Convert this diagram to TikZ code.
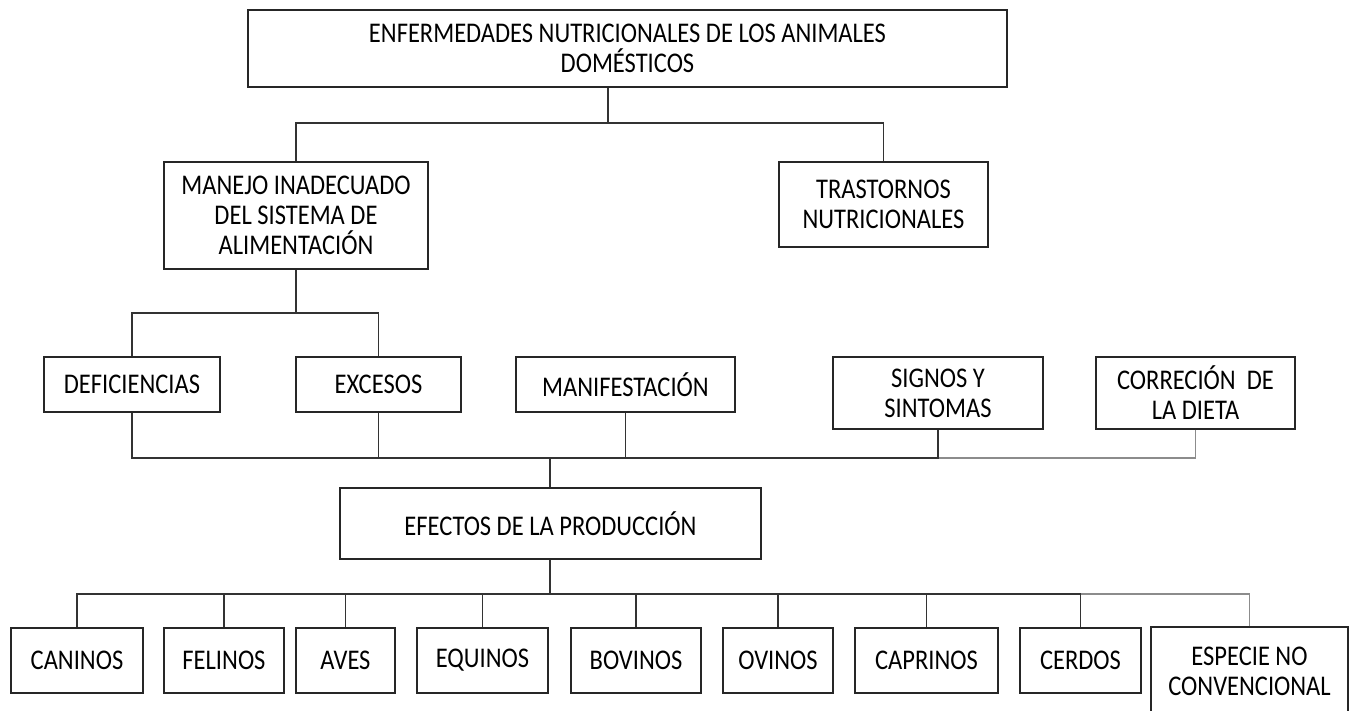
\documentclass[tikz,border=0pt]{standalone}
\usepackage{fontspec}
\setmainfont{Carlito}[FakeStretch=0.86]
\begin{document}
\begin{tikzpicture}[x=1pt,y=-1pt,
  box/.style={draw=black!85, line width=1.3pt, align=center, inner sep=0pt,
    font=\fontsize{28.5}{30}\selectfont, text=black},
  conn/.style={draw=black!80, line width=1.3pt},
  connlight/.style={draw=black!45, line width=1.1pt}]
\useasboundingbox (0,0) rectangle (1349,711);
\clip (0,0) rectangle (1349,711);
\fill[white] (0,0) rectangle (1349,711);
% nodes
\node[box, minimum width=759pt, minimum height=77pt] (top) at (627.5,48.5) {ENFERMEDADES NUTRICIONALES DE LOS ANIMALES\\DOMÉSTICOS};
\node[box, minimum width=264pt, minimum height=107pt] (manejo) at (296,215.5) {MANEJO INADECUADO\\DEL SISTEMA DE\\ALIMENTACIÓN};
\node[box, minimum width=209pt, minimum height=85pt] (trast) at (883.5,204.5) {TRASTORNOS\\NUTRICIONALES};
\node[box, minimum width=176pt, minimum height=55pt] (defic) at (132,384.5) {DEFICIENCIAS};
\node[box, minimum width=165pt, minimum height=55pt] (exces) at (378.5,384.5) {EXCESOS};
\node[box, minimum width=219pt, minimum height=55pt] (manif) at (625.5,384.5) {MANIFESTACIÓN};
\node[box, minimum width=210pt, minimum height=72pt] (signos) at (938,393) {SIGNOS Y\\SINTOMAS};
\node[box, minimum width=199pt, minimum height=72pt] (correc) at (1195.5,393) {CORRECIÓN\ \ DE\\LA DIETA};
\node[box, minimum width=421pt, minimum height=71pt] (efectos) at (550.5,523.5) {EFECTOS DE LA PRODUCCIÓN};
\node[box, minimum width=132pt, minimum height=65pt] (caninos) at (77,660.5) {CANINOS};
\node[box, minimum width=120pt, minimum height=65pt] (felinos) at (224,660.5) {FELINOS};
\node[box, minimum width=99pt, minimum height=65pt] (aves) at (345.5,660.5) {AVES};
\node[box, minimum width=131pt, minimum height=65pt] (equinos) at (482.5,660.5) {EQUINOS};
\node[box, minimum width=130pt, minimum height=65pt] (bovinos) at (636,660.5) {BOVINOS};
\node[box, minimum width=110pt, minimum height=65pt] (ovinos) at (778,660.5) {OVINOS};
\node[box, minimum width=143pt, minimum height=65pt] (caprinos) at (926.5,660.5) {CAPRINOS};
\node[box, minimum width=121pt, minimum height=65pt] (cerdos) at (1080.5,660.5) {CERDOS};
\node[box, minimum width=197pt, minimum height=88pt] (especie) at (1249.5,671) {ESPECIE NO\\CONVENCIONAL};
% junctions
\coordinate (j0) at (608,123);
\coordinate (j1) at (296,313);
\coordinate (j2) at (550,458);
\coordinate (j3) at (550,594);
% connectors
\draw[conn] (top.south -| j0) -- (j0);
\draw[conn] (manejo.north) |- (j0) -| (trast.north);
\draw[conn] (manejo.south) -- (j1);
\draw[conn] (defic.north) |- (j1) -| (exces.north);
\draw[connlight] (correc.south) |- (j2 -| signos.south);
\draw[conn] (defic.south) |- (j2);
\draw[conn] (exces.south) |- (j2);
\draw[conn] (manif.south) |- (j2);
\draw[conn] (signos.south) |- (j2);
\draw[conn] (j2) -- (efectos.north -| j2);
\draw[conn] (efectos.south -| j3) -- (j3);
\draw[connlight] (especie.north) |- (j3 -| cerdos.north);
\foreach \n in {caninos,felinos,aves,equinos,bovinos,ovinos,caprinos,cerdos}
  \draw[conn] (\n.north) |- (j3);
\end{tikzpicture}
\end{document}
